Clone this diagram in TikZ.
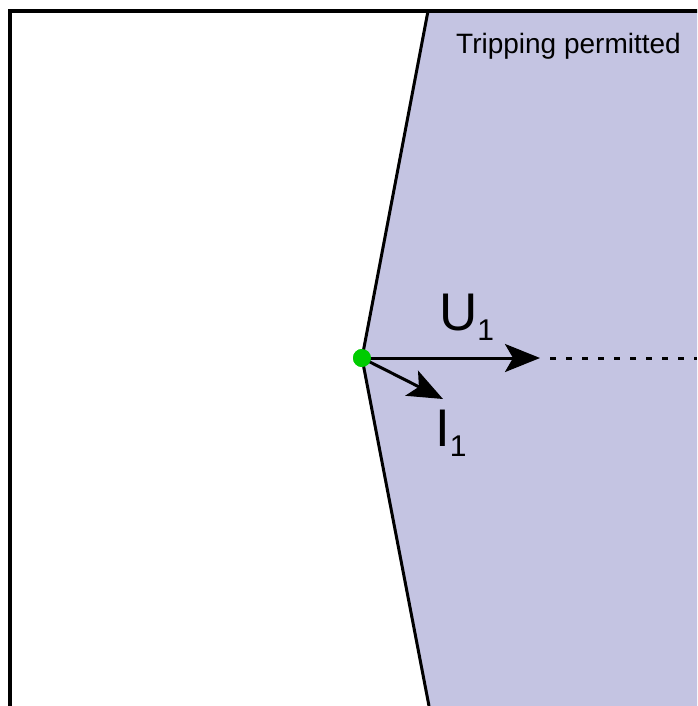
\documentclass[tikz,border=0pt]{standalone}
\usepackage{fontspec}
\setmainfont{Liberation Sans}
\usetikzlibrary{arrows.meta}
\definecolor{zTrip}{HTML}{C4C4E2}
\definecolor{dVtx}{HTML}{00CC00}
\newcommand{\phsub}[1]{\raisebox{-10pt}{\fontsize{30}{30}\selectfont #1}}
\tikzset{
  frame/.style={line width=4pt, black},
  zedge/.style={line width=3pt, black, line join=miter},
  phasor/.style={-{Stealth[length=35pt, width=28pt, inset=8pt]}, line width=3pt, black},
  ext/.style={line width=3pt, black, dash pattern=on 6pt off 10pt, dash phase=6pt},
  lbl/.style={font=\fontsize{53}{60}\selectfont, anchor=base west, inner sep=0pt},
  note/.style={font=\fontsize{28}{34}\selectfont, anchor=base west, inner sep=0pt},
}
\begin{document}
\begin{tikzpicture}[x=1pt,y=-1pt]
\useasboundingbox (0,0) rectangle (697,706);
\clip (0,0) rectangle (697,706);
% ================= tripping zone =================
\coordinate (ztop) at (428,11);
\coordinate (zbot) at (429,706);
\node[circle, fill=dVtx, minimum size=18pt, inner sep=0pt] (vtx) at (362,358) {};
\fill[zTrip] (ztop) -- (vtx.center) -- (zbot) -- (697,706) -- (697,11) -- cycle;
\draw[zedge] (ztop) -- (vtx.center) -- (zbot);
\node[note] (trip) at (456,54) {Tripping permitted};
% ================= phasors =================
\coordinate (utip) at (540,358);
\coordinate (uend) at (697,358);
\coordinate (itip) at (443,399);
\draw[ext] (utip) -- (uend);
\draw[phasor] (vtx.center) -- (utip);
\draw[phasor] (vtx.center) -- (itip);
\node[lbl] (ulbl) at (439,330) {U\phsub{1}};
\node[lbl] (ilbl) at (435,446) {I\phsub{1}};
\node[circle, fill=dVtx, minimum size=18pt, inner sep=0pt] at (vtx) {};
% ================= frame =================
\draw[frame] (10,11) rectangle (760,760);
\end{tikzpicture}
\end{document}
